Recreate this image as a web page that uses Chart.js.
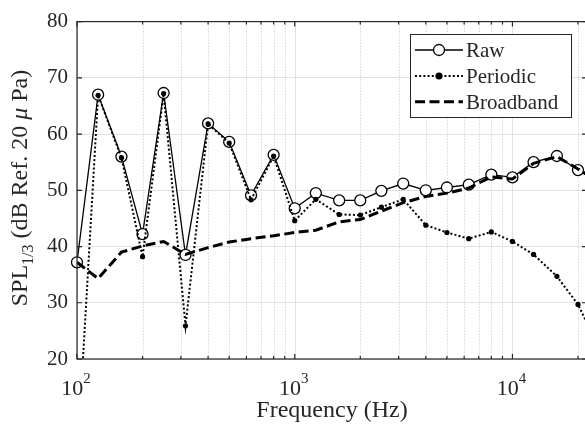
<!DOCTYPE html>
<html>
<head>
<meta charset="utf-8">
<script src="https://cdn.jsdelivr.net/npm/chart.js@4/dist/chart.umd.min.js"></script>
<style>
html, body { margin: 0; padding: 0; background: #fff; overflow: hidden; width: 585px; height: 426px; }
canvas { display: block; }
</style>
</head>
<body>
<canvas id="c" width="600" height="426"></canvas>
<script>
// third-octave band centres (Hz)
const freqs = [100, 125, 160, 200, 250, 315, 400, 500, 630, 800, 1000, 1250, 1600,
               2000, 2500, 3150, 4000, 5000, 6300, 8000, 10000, 12500, 16000, 20000, 25000];
const raw = [37.2, 67.0, 56.0, 42.2, 67.3, 38.5, 61.9, 58.6, 49.1, 56.3, 46.8, 49.5, 48.2,
             48.2, 49.9, 51.2, 50.0, 50.5, 51.0, 52.8, 52.3, 55.0, 56.1, 53.6, 51.2];
const periodic = [1.5, 66.9, 55.8, 38.2, 67.2, 25.9, 61.8, 58.4, 48.3, 56.1, 44.6, 48.4, 45.7,
                  45.6, 47.0, 48.4, 43.8, 42.5, 41.4, 42.6, 40.9, 38.6, 34.7, 29.7, 22.0];
const broadband = [37.2, 34.3, 39.0, 40.1, 40.9, 38.6, 39.8, 40.8, 41.4, 41.9, 42.5, 42.9, 44.4,
                   44.8, 46.3, 47.8, 48.9, 49.5, 50.4, 52.4, 52.0, 54.8, 56.0, 53.8, 51.5];
const seriesNames = ['Raw', 'Periodic', 'Broadband'];
const yTicks = [20, 30, 40, 50, 60, 70, 80];
const xDecades = [100, 1000, 10000];
const xLabel = 'Frequency (Hz)';

const FONT = "'Liberation Serif', 'Times New Roman', serif";
const INK = '#262626';

function pts(arr) {
    return freqs.map((f, i) => ({ x: f, y: arr[i] }));
}

// grid, box, ticks, labels and legend
const frame = {
    id: 'frame',
    beforeDatasetsDraw(chart) {
        const { ctx, chartArea: a, scales: { x } } = chart;
        ctx.save();
        ctx.lineWidth = 1;
        xDecades.forEach(d => {
            for (let m = 1; m <= 9; m++) {
                const f = d * m;
                if (f > x.max) continue;
                const px = Math.round(x.getPixelForValue(f)) + 0.5;
                if (m === 1) {
                    ctx.setLineDash([]);
                    ctx.strokeStyle = '#e1e1e1';
                } else {
                    ctx.setLineDash([1, 2]);
                    ctx.strokeStyle = '#c4c4c4';
                }
                ctx.beginPath();
                ctx.moveTo(px, a.top);
                ctx.lineTo(px, a.bottom);
                ctx.stroke();
            }
        });
        ctx.restore();
    },
    afterDatasetsDraw(chart) {
        const { ctx, chartArea: a, scales: { x, y } } = chart;
        ctx.save();
        ctx.strokeStyle = INK;
        ctx.fillStyle = INK;
        ctx.lineWidth = 1.2;
        ctx.setLineDash([]);

        // axes box
        ctx.strokeRect(a.left, a.top, a.right - a.left, a.bottom - a.top);

        // inward ticks
        ctx.beginPath();
        xDecades.forEach(d => {
            for (let m = 1; m <= 9; m++) {
                const f = d * m;
                if (f > x.max) continue;
                const px = x.getPixelForValue(f);
                const len = m === 1 ? 5 : 3;
                ctx.moveTo(px, a.bottom); ctx.lineTo(px, a.bottom - len);
                ctx.moveTo(px, a.top); ctx.lineTo(px, a.top + len);
            }
        });
        yTicks.forEach(v => {
            const py = y.getPixelForValue(v);
            ctx.moveTo(a.left, py); ctx.lineTo(a.left + 5, py);
            ctx.moveTo(a.right, py); ctx.lineTo(a.right - 5, py);
        });
        ctx.stroke();

        // x tick labels 10^n
        ctx.textBaseline = 'alphabetic';
        ctx.textAlign = 'left';
        xDecades.forEach(d => {
            const px = x.getPixelForValue(d);
            const exp = String(Math.round(Math.log10(d)));
            ctx.font = '22px ' + FONT;
            const w1 = ctx.measureText('10').width;
            ctx.font = '15px ' + FONT;
            const w2 = ctx.measureText(exp).width;
            const left = px - (w1 + w2) / 2 - 1;
            ctx.font = '22px ' + FONT;
            ctx.fillText('10', left, 394.5);
            ctx.font = '15px ' + FONT;
            ctx.fillText(exp, left + w1, 382.5);
        });

        // x title
        ctx.font = '24px ' + FONT;
        ctx.textAlign = 'center';
        ctx.fillText(xLabel, (a.left + a.right) / 2, 417);

        // y title with subscript
        const parts = [
            { t: 'SPL', f: '24px ' + FONT, dy: 0 },
            { t: '1/3', f: '16px ' + FONT, dy: 6 },
            { t: ' (dB Ref. 20 ', f: '24px ' + FONT, dy: 0 },
            { t: '\u03bc', f: 'italic 24px ' + FONT, dy: 0 },
            { t: ' Pa)', f: '24px ' + FONT, dy: 0 }
        ];
        let total = 0;
        parts.forEach(p => { ctx.font = p.f; p.w = ctx.measureText(p.t).width; total += p.w; });
        ctx.translate(27, 188);
        ctx.rotate(-Math.PI / 2);
        ctx.textAlign = 'left';
        let cx = -total / 2;
        parts.forEach(p => {
            ctx.font = p.f;
            ctx.fillText(p.t, cx, p.dy);
            cx += p.w;
        });
        ctx.setTransform(1, 0, 0, 1, 0, 0);

        // legend
        const lx = 410, ly = 34, lw = 161, lh = 83;
        ctx.fillStyle = '#fff';
        ctx.fillRect(lx, ly, lw, lh);
        ctx.strokeStyle = INK;
        ctx.lineWidth = 1;
        ctx.strokeRect(lx + 0.5, ly + 0.5, lw, lh);
        const rows = [50, 76, 101.7];
        seriesNames.forEach((name, i) => {
            const ds = chart.data.datasets.find(d => d.label === name);
            const cy = rows[i];
            ctx.save();
            ctx.strokeStyle = '#000';
            ctx.lineWidth = ds.borderWidth;
            ctx.setLineDash(ds.borderDash || []);
            ctx.beginPath();
            ctx.moveTo(415, cy);
            ctx.lineTo(463, cy);
            ctx.stroke();
            ctx.setLineDash([]);
            if (ds.pointRadius > 0) {
                ctx.beginPath();
                ctx.arc(439, cy, ds.pointRadius, 0, Math.PI * 2);
                ctx.fillStyle = ds.pointBackgroundColor;
                ctx.fill();
                ctx.lineWidth = ds.pointBorderWidth;
                ctx.stroke();
            }
            ctx.restore();
            ctx.fillStyle = INK;
            ctx.font = '21px ' + FONT;
            ctx.textAlign = 'left';
            ctx.fillText(name, 466, cy + 7);
        });
        ctx.restore();
    }
};

new Chart(document.getElementById('c'), {
    type: 'line',
    data: {
        datasets: [
            {
                label: seriesNames[0],
                data: pts(raw),
                borderColor: '#000',
                borderWidth: 1.3,
                pointRadius: 5.5,
                pointBackgroundColor: '#fff',
                pointBorderColor: '#000',
                pointBorderWidth: 1.3,
                clip: false,
                order: 3
            },
            {
                label: seriesNames[1],
                data: pts(periodic),
                borderColor: '#000',
                borderWidth: 2,
                borderDash: [2, 2.2],
                pointRadius: 2.6,
                pointBackgroundColor: '#000',
                pointBorderColor: '#000',
                pointBorderWidth: 0,
                order: 2
            },
            {
                label: seriesNames[2],
                data: pts(broadband),
                borderColor: '#000',
                borderWidth: 3,
                borderDash: [10, 4.5],
                pointRadius: 0,
                pointBackgroundColor: '#000',
                pointBorderWidth: 0,
                order: 1
            }
        ]
    },
    options: {
        responsive: false,
        animation: false,
        devicePixelRatio: 1,
        layout: { padding: { left: 0, right: 13, top: 18.5, bottom: 67 } },
        plugins: { legend: { display: false }, tooltip: { enabled: false } },
        elements: { line: { tension: 0, fill: false } },
        scales: {
            x: {
                type: 'logarithmic',
                min: 100,
                max: 22000,
                display: false
            },
            y: {
                type: 'linear',
                min: 20,
                max: 80,
                afterBuildTicks: s => { s.ticks = yTicks.map(v => ({ value: v })); },
                afterFit: s => { s.width = 77; },
                grid: { color: '#e1e1e1', lineWidth: 1, drawTicks: false },
                border: { display: false },
                ticks: {
                    color: INK,
                    padding: 9,
                    font: { family: FONT, size: 21 }
                }
            }
        }
    },
    plugins: [frame]
});
</script>
</body>
</html>
